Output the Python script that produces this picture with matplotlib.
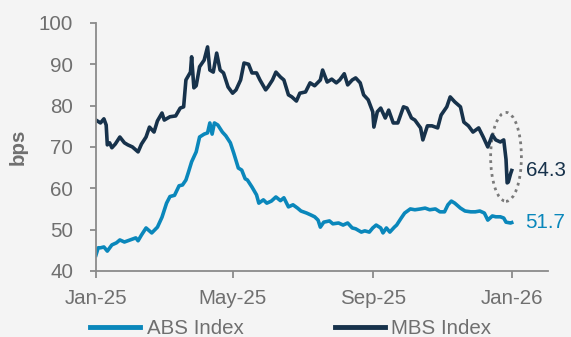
import datetime as dt
import matplotlib
matplotlib.use("Agg")
import matplotlib.pyplot as plt
import matplotlib.dates as mdates
from matplotlib.patches import Ellipse
from matplotlib.lines import Line2D

plt.rcParams['font.family'] = ['Liberation Sans', 'DejaVu Sans']

BASE = dt.date(2025, 1, 1)

# MBS Index (days since 2025-01-01, bps)
mbs_days = [0, 4, 7, 9, 10, 12, 14, 17, 21, 25, 28, 32, 37, 40, 44, 47, 51, 54, 58, 60,
            65, 70, 74, 77, 79, 83, 84, 86, 88, 91, 95, 98, 100, 103, 106, 109, 112, 116,
            120, 123, 127, 130, 134, 137, 141, 144, 149, 151, 155, 158, 162, 165, 169, 172,
            176, 179, 184, 188, 192, 197, 199, 203, 207, 211, 214, 218, 221, 225, 228, 232,
            235, 239, 243, 244, 247, 250, 254, 257, 261, 265, 270, 273, 277, 280, 285, 287,
            291, 295, 300, 303, 308, 311, 315, 320, 323, 327, 331, 336, 340, 344, 348, 351,
            355, 358, 360, 361, 362, 364, 365]
mbs_vals = [76.5, 75.8, 76.8, 75.3, 70.5, 71.0, 69.8, 70.7, 72.4, 71.0, 70.5, 70.0, 68.8,
            70.7, 72.4, 74.8, 73.6, 76.3, 78.2, 76.5, 77.3, 77.5, 79.4, 79.7, 86.2, 88.1,
            91.8, 84.3, 84.8, 89.4, 91.0, 94.2, 88.6, 88.1, 92.7, 88.6, 87.9, 84.5, 83.0,
            83.8, 86.2, 90.3, 90.0, 87.9, 87.9, 86.2, 83.8, 84.5, 86.2, 88.1, 86.9, 86.2,
            82.6, 82.1, 81.1, 83.0, 83.3, 85.5, 84.8, 86.2, 88.6, 85.7, 86.4, 85.5, 86.2,
            87.7, 85.0, 86.2, 86.7, 85.5, 82.6, 81.4, 78.5, 74.8, 78.5, 79.4, 77.0, 78.9,
            75.8, 75.8, 79.7, 79.4, 77.0, 76.5, 74.6, 71.7, 75.1, 75.1, 74.6, 77.7, 79.7,
            82.1, 80.9, 79.7, 76.0, 75.1, 73.6, 74.6, 72.4, 70.0, 72.9, 71.7, 71.2, 71.7,
            67.0, 61.3, 61.5, 63.5, 64.3]

# ABS Index (days since 2025-01-01, bps)
abs_days = [0, 2, 4, 7, 10, 14, 18, 21, 25, 30, 35, 37, 40, 44, 49, 54, 58, 62, 65, 69,
            73, 76, 79, 81, 84, 88, 91, 95, 98, 100, 102, 104, 107, 111, 114, 118, 121,
            125, 128, 131, 133, 137, 141, 143, 147, 150, 154, 158, 162, 165, 169, 173, 177,
            180, 185, 189, 192, 195, 197, 200, 205, 208, 213, 217, 221, 225, 228, 233, 236,
            240, 243, 246, 250, 252, 255, 258, 262, 264, 268, 271, 276, 280, 285, 289, 293,
            298, 302, 306, 309, 312, 315, 320, 324, 329, 333, 337, 341, 344, 348, 351, 355,
            358, 360, 364, 365]
abs_vals = [43.8, 45.6, 45.6, 45.8, 44.8, 46.3, 46.8, 47.5, 47.0, 47.5, 48.0, 47.3, 48.7,
            50.4, 49.2, 50.6, 53.0, 56.4, 58.0, 58.3, 60.6, 60.8, 62.0, 63.7, 66.4, 68.8,
            72.4, 73.1, 73.4, 75.8, 73.1, 75.8, 75.3, 73.6, 72.7, 71.0, 68.5, 64.9, 64.4,
            62.3, 62.0, 60.3, 58.4, 56.4, 57.2, 56.4, 56.9, 57.9, 57.0, 57.7, 55.5, 56.0,
            55.2, 54.5, 54.0, 53.5, 53.1, 52.3, 50.6, 51.8, 52.1, 51.4, 51.6, 51.1, 51.6,
            50.4, 50.2, 49.4, 49.7, 49.4, 50.4, 51.1, 50.4, 49.2, 50.4, 49.4, 50.6, 51.1,
            52.8, 54.0, 55.0, 54.8, 55.0, 55.2, 54.8, 55.0, 54.3, 54.3, 56.0, 56.9, 56.4,
            55.2, 54.5, 54.3, 54.3, 54.5, 54.0, 52.3, 53.3, 53.1, 53.1, 52.8, 51.8, 51.6,
            51.7]

series_names = ["ABS Index", "MBS Index"]
tick_dates = ["2025-01-01", "2025-05-01", "2025-09-01", "2026-01-01"]
tick_labels = ["Jan-25", "May-25", "Sep-25", "Jan-26"]
y_ticks = [40, 50, 60, 70, 80, 90, 100]

ABS_C = "#0a87bb"
MBS_C = "#17324b"
BG = "#f4f4f4"
GREY = "#6f6f6f"
SPINE = "#8a8a8a"
FS = 14.8

mbs_dates = [BASE + dt.timedelta(days=d) for d in mbs_days]
abs_dates = [BASE + dt.timedelta(days=d) for d in abs_days]

fig = plt.figure(figsize=(5.71, 3.37), dpi=100, facecolor=BG)
ax = fig.add_axes([0.168, 0.196, 0.792, 0.736], facecolor=BG)

ax.plot(abs_dates, abs_vals, color=ABS_C, lw=2.6, solid_joinstyle='round')
ax.plot(mbs_dates, mbs_vals, color=MBS_C, lw=2.6, solid_joinstyle='round')

ax.set_ylim(40, 100)
ax.set_yticks(y_ticks)
ax.set_xlim(BASE, dt.date(2026, 2, 2))
ax.set_xticks([dt.date.fromisoformat(s) for s in tick_dates])
ax.set_xticklabels(tick_labels)

for s in ["top", "right"]:
    ax.spines[s].set_visible(False)
for s in ["left", "bottom"]:
    ax.spines[s].set_color(SPINE)
    ax.spines[s].set_linewidth(1.3)
ax.tick_params(axis='y', direction='out', length=4.5, width=1.3, color=SPINE,
               labelsize=FS, labelcolor=GREY, pad=12)
ax.tick_params(axis='x', direction='out', length=5, width=1.3, color=SPINE,
               labelsize=FS, labelcolor=GREY, pad=8)
ax.set_ylabel("bps", fontsize=FS, fontweight='bold', color=GREY, labelpad=8)

# end labels
ax.annotate(f"{mbs_vals[-1]:.1f}", xy=(mbs_dates[-1], mbs_vals[-1]), xytext=(10, 0),
            textcoords='offset points', va='center', ha='left', fontsize=FS, color=MBS_C)
ax.annotate(f"{abs_vals[-1]:.1f}", xy=(abs_dates[-1], abs_vals[-1]), xytext=(10, 0),
            textcoords='offset points', va='center', ha='left', fontsize=FS, color=ABS_C)

# dotted ellipse highlighting the recent MBS drop
cx = mdates.date2num(mbs_dates[-1] - dt.timedelta(days=5))
ell = Ellipse((cx, 67.6), width=27, height=21.5, fill=False, edgecolor="#7a7a7a",
              lw=2.0, linestyle=(0, (1, 1.5)))
ax.add_patch(ell)

handles = [Line2D([], [], color=ABS_C, lw=3.5), Line2D([], [], color=MBS_C, lw=3.5)]
fig.legend(handles, series_names, loc='center left', bbox_to_anchor=(90 / 571, 0.026),
           ncol=2, frameon=False, fontsize=FS, handlelength=2.45, handletextpad=0.3,
           columnspacing=4.45, borderpad=0, borderaxespad=0, labelcolor=GREY)

fig.savefig("out.png", dpi=100, facecolor=BG)
